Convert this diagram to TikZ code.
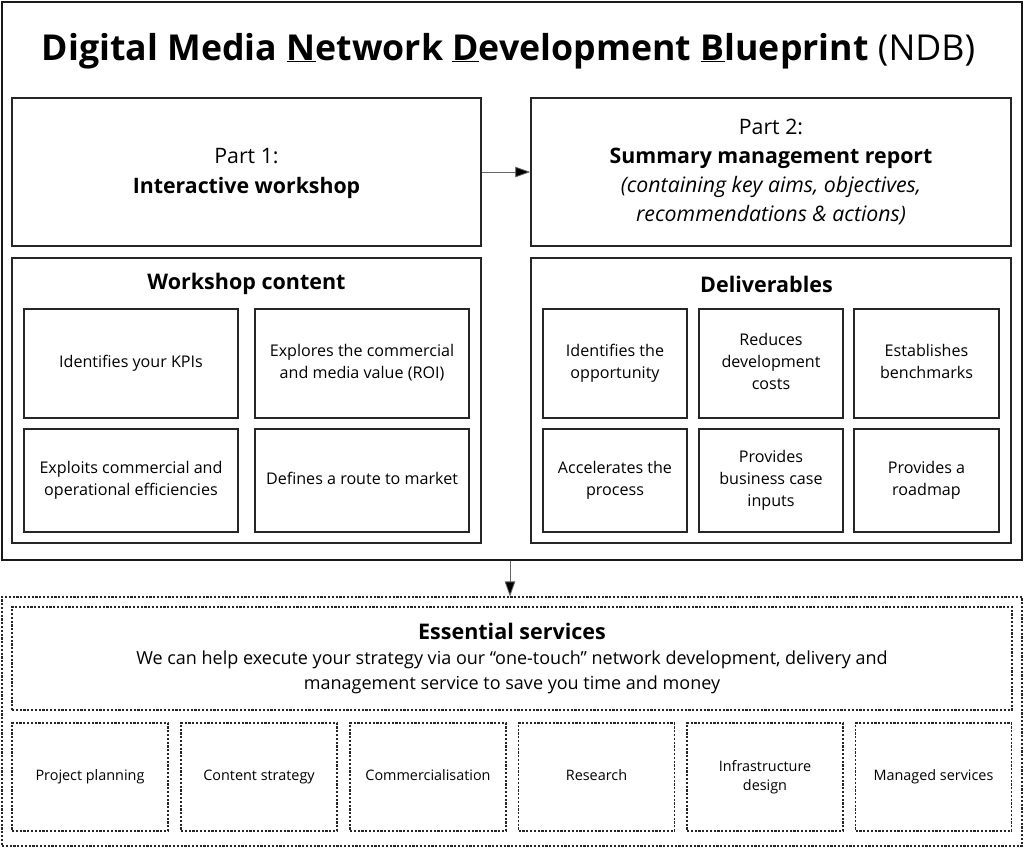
\documentclass[tikz,border=0pt]{standalone}
\usepackage{fontspec}
\setmainfont{Open Sans}
\usetikzlibrary{arrows.meta}
\newcommand{\strutline}[1]{\strut#1\strut}
\tikzset{
  box/.style={draw=black!85, line width=1.4pt, rectangle, align=center, inner sep=2pt},
  bigbox/.style={draw=black!90, line width=2.6pt, rectangle},
  dbox/.style={draw=black!85, line width=1.1pt, dash pattern=on 2.2pt off 1.6pt, rectangle, align=center, inner sep=2pt},
  cell/.style={box, font=\fontsize{16.1}{22}\selectfont},
  dcell/.style={dbox, font=\fontsize{14.4}{19.5}\selectfont, minimum width=156, minimum height=108},
  sectitle/.style={font=\bfseries\fontsize{21.5}{24}\selectfont},
  conn/.style={draw=black!60, line width=0.8pt, -{Triangle[length=15pt,width=10.5pt,fill=black]}},
}
\begin{document}
\begin{tikzpicture}[x=1pt,y=-1pt]
\useasboundingbox (0,0) rectangle (1024,847);
% outer top box
\node[bigbox, minimum width=1020, minimum height=558] (outer) at (512,281) {};
\node[font=\fontsize{35.7}{40}\selectfont] (title) at (508.5,51) {\textbf{Digital Media \underline{N}etwork \underline{D}evelopment \underline{B}lueprint} (NDB)};
% part boxes
\node[box, minimum width=469, minimum height=148, font=\fontsize{21.3}{30}\selectfont] (p1) at (246.5,172) {\strut Part 1:\\\textbf{Interactive workshop}\strut};
\node[box, minimum width=480, minimum height=148, font=\fontsize{21.3}{29}\selectfont] (p2) at (771,172) {\strut Part 2:\\\textbf{Summary management report}\\\textit{(containing key aims, objectives,}\\\textit{recommendations \& actions)}\strut};
\draw[conn] (p1.east) -- (p2.west);
% workshop content
\node[box, minimum width=469, minimum height=285] (ws) at (246.5,400.5) {};
\node[sectitle] (wst) at (246.5,284) {Workshop content};
\node[cell, minimum width=214, minimum height=109] (w1) at (131,363.5) {\strutline{Identifies your KPIs}};
\node[cell, minimum width=214, minimum height=109] (w2) at (362,363.5) {\strut Explores the commercial\\and media value (ROI)\strut};
\node[cell, minimum width=214, minimum height=103] (w3) at (131,480.5) {\strut Exploits commercial and\\operational efficiencies\strut};
\node[cell, minimum width=214, minimum height=103] (w4) at (362,480.5) {\strutline{Defines a route to market}};
% deliverables
\node[box, minimum width=480, minimum height=285] (dl) at (771,400.5) {};
\node[sectitle] (dlt) at (766.5,284) {Deliverables};
\node[cell, minimum width=144, minimum height=109] (d1) at (615,363.5) {\strut Identifies the\\opportunity\strut};
\node[cell, minimum width=144, minimum height=109] (d2) at (771,363.5) {\strut Reduces\\development\\costs\strut};
\node[cell, minimum width=145, minimum height=109] (d3) at (926.5,363.5) {\strut Establishes\\benchmarks\strut};
\node[cell, minimum width=144, minimum height=103] (d4) at (615,480.5) {\strut Accelerates the\\process\strut};
\node[cell, minimum width=144, minimum height=103] (d5) at (771,480.5) {\strut Provides\\business case\\inputs\strut};
\node[cell, minimum width=145, minimum height=103] (d6) at (926.5,480.5) {\strut Provides a\\roadmap\strut};
% essential services
\node[dbox, minimum width=1020, minimum height=249] (eo) at (512,721.5) {};
\node[dbox, minimum width=1000, minimum height=103, font=\fontsize{18}{25}\selectfont] (es) at (512,658.5) {{\bfseries\fontsize{21.5}{27}\selectfont Essential services}\\We can help execute your strategy via our “one-touch” network development, delivery and\\management service to save you time and money};
\draw[conn] ([xshift=-2pt]outer.south) -- ([xshift=-2pt]eo.north);
\node[dcell] (s1) at (90,777) {\strutline{Project planning}};
\node[dcell] (s2) at (259,777) {\strutline{Content strategy}};
\node[dcell] (s3) at (428,777) {\strutline{Commercialisation}};
\node[dcell] (s4) at (596.5,777) {\strutline{Research}};
\node[dcell] (s5) at (765,777) {\strut Infrastructure\\design\strut};
\node[dcell] (s6) at (933.5,777) {\strutline{Managed services}};
\end{tikzpicture}
\end{document}
